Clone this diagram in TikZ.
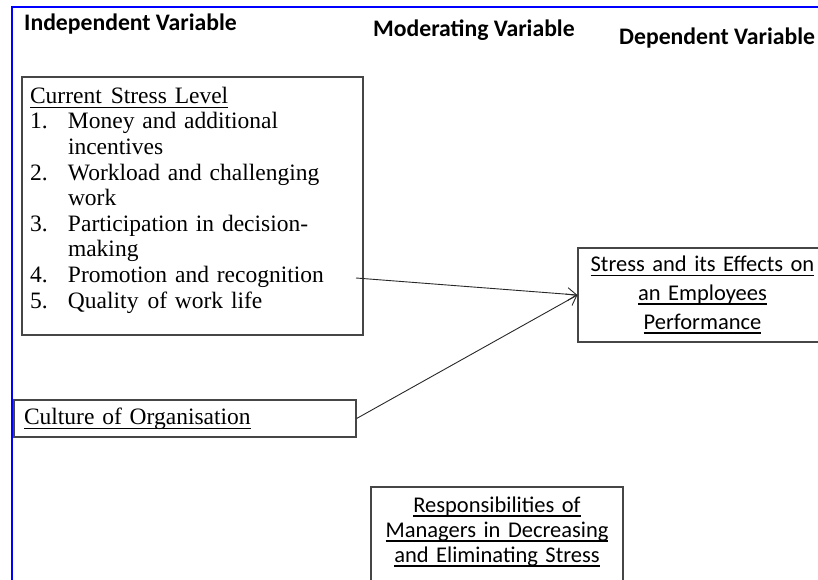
\documentclass[tikz,border=0pt]{standalone}
\usepackage{fontspec}
\setmainfont{Liberation Serif}
\newfontfamily\calibrifont{Carlito}
\usetikzlibrary{arrows.meta}

\definecolor{frameblue}{RGB}{0,0,255}
\definecolor{boxgray}{RGB}{70,70,70}
\definecolor{linegray}{RGB}{40,40,40}

% fonts used in the boxes
\newcommand{\bodyfont}{\fontsize{23.5}{25.6}\selectfont}
\newcommand{\sansbody}{\calibrifont\fontsize{22.5}{28.7}\selectfont}
% underline set at a fixed depth below the baseline
\newcommand{\ulx}[2][1.2pt]{\setbox0=\hbox{#2}\leavevmode\rlap{\rule[-4.5pt]{\wd0}{#1}}\box0}
% numbered entry with a hanging indent
\newcommand{\itm}[1]{\makebox[38pt][l]{#1}}

\begin{document}
\begin{tikzpicture}[x=1pt,y=-1pt,
    varbox/.style={draw=boxgray, line width=1.2pt, inner ysep=0pt},
    heading/.style={font=\calibrifont\bfseries\fontsize{23.7}{27}\selectfont, anchor=base west, inner sep=0pt},
    link/.style={draw=linegray, line width=0.9pt, -{Straight Barb[length=9pt,width=13pt]}}]
    \useasboundingbox (0,0) rectangle (818,579);

    % Blue frame (top and left edges)
    \draw[frameblue, line width=2pt] (840,7) -- (12,7) -- (12,600);

    % Column headings
    \node[heading] (indep) at (24,30) {Independent Variable};
    \node[heading] (moder) at (373,36) {Moderating Variable};
    \node[heading] (dep) at (619,44) {Dependent Variable};

    % Independent variable - current stress level
    \node[varbox, inner xsep=8pt, text width=325pt, minimum height=258pt,
          align=left, font=\bodyfont] (stress) at (192.5,206) {%
        \ulx{Current\hspace{9pt}Stress Level}\\
        \itm{1.}Money and additional\\
        \hspace*{38pt}incentives\\
        \itm{2.}Workload and challenging\\
        \hspace*{38pt}work\\
        \itm{3.}Participation in decision-\\
        \hspace*{38pt}making\\
        \itm{4.}Promotion and recognition\\
        \itm{5.}Quality\hspace{9pt}of work life\par\kern12pt};

    % Independent variable - culture
    \node[varbox, inner xsep=10pt, text width=322pt, minimum height=37pt,
          align=left, font=\bodyfont] (culture) at (185,418.5)
        {\ulx{Culture of Organisation}};

    % Dependent variable
    \node[varbox, inner xsep=8pt, text width=233pt, minimum height=94pt,
          align=center, font=\sansbody] (effects) at (702.5,295) {%
        \ulx[1.8pt]{Stress and its Effects on}\\
        \ulx[1.8pt]{an Employees}\\
        \ulx[1.8pt]{Performance}};

    % Moderating variable
    \node[varbox, inner xsep=8pt, text width=236pt, minimum height=110pt,
          align=center, font=\calibrifont\fontsize{22.5}{25}\selectfont] (managers) at (497,542) {%
        \ulx[1.8pt]{Responsibilities of}\\
        \ulx[1.8pt]{Managers in Decreasing}\\
        \ulx[1.8pt]{and Eliminating Stress}\par\kern21pt};

    % Links into the dependent variable
    \coordinate (s1) at (356,278);
    \draw[link] (s1) -- (effects.west);
    \draw[link] (culture.east) -- (effects.west);
\end{tikzpicture}
\end{document}
